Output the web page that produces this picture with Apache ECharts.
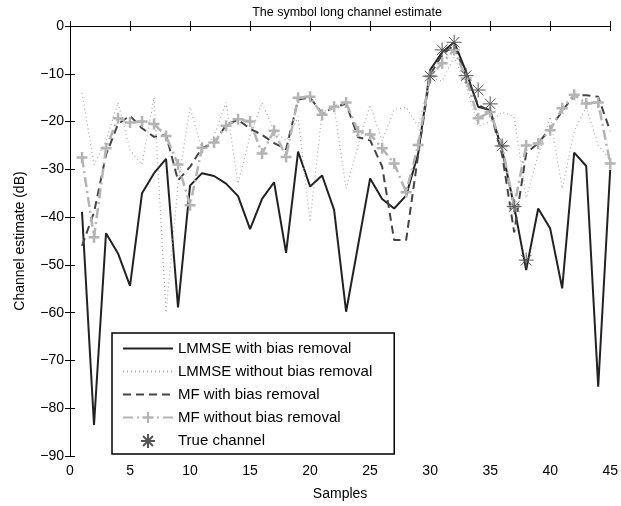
<!DOCTYPE html>
<html>
<head>
<meta charset="utf-8">
<script src="https://cdn.jsdelivr.net/npm/echarts@6/dist/echarts.min.js"></script>
<style>html,body{margin:0;padding:0;background:#fff;}#c{width:621px;height:506px;}</style>
</head>
<body>
<div id="c"></div>
<script>
var samples = [1,2,3,4,5,6,7,8,9,10,11,12,13,14,15,16,17,18,19,20,21,22,23,24,25,26,27,28,29,30,31,32,33,34,35,36,37,38,39,40,41,42,43,44,45];
var lmmseBias = [-38.9,-83.5,-43.4,-47.6,-54.4,-35.0,-30.8,-27.8,-58.9,-33.4,-30.8,-31.4,-33.0,-35.6,-42.5,-36.2,-32.7,-47.5,-26.3,-33.6,-31.3,-38.5,-59.8,-45.9,-31.9,-36.2,-38.2,-35.5,-26.7,-9.2,-5.5,-3.4,-9.6,-16.9,-17.6,-26.0,-37.8,-51.1,-38.2,-42.4,-54.9,-26.5,-29.3,-75.5,-30.1];
var lmmseNoBias = [-14,-29,-24,-16,-26,-29,-15,-60,-33,-17,-26,-23,-16,-33,-23,-16,-22,-24,-19,-41,-18,-17,-34,-25,-16.5,-24,-17.5,-17,-21,-11,-11.5,-6.5,-12.5,-21,-20,-18,-19,-36,-27,-19,-34,-22,-17,-25,-28];
var mfBias = [-46,-39,-27,-20.5,-18.8,-21.4,-23.2,-22.8,-32.3,-29.5,-25.5,-24.6,-20.7,-19.6,-21.5,-22.8,-24.5,-25.8,-15.4,-15.0,-18.3,-17.0,-16.3,-23.3,-23.9,-29.4,-44.8,-44.8,-27.0,-10.2,-6.0,-4.0,-10.5,-16.5,-17.8,-27.0,-43.2,-26.7,-24.5,-21.5,-17.8,-14.5,-14.5,-14.8,-22.0];
var mfNoBias = [-27.5,-44.2,-25.6,-19.3,-20.2,-20.0,-20.5,-23.0,-29.0,-37.5,-25.5,-24.4,-20.9,-19.5,-20.0,-26.7,-21.9,-27.4,-15.0,-14.8,-18.6,-16.9,-16.0,-22.1,-22.7,-25.6,-28.8,-34.8,-24.9,-10.5,-7.8,-5.0,-11.0,-19.3,-18.0,-25.1,-37.8,-25.0,-24.6,-21.8,-17.2,-14.4,-16.2,-16.0,-28.8];
var trueSamples = [30,31,32,33,34,35,36,37,38];
var trueValues = [-10.5,-5.0,-3.4,-10.4,-13.4,-16.3,-25.1,-37.8,-49.0];
var seriesNames = ['LMMSE with bias removal','LMMSE without bias removal','MF with bias removal','MF without bias removal','True channel'];
var xTicks = [0,5,10,15,20,25,30,35,40,45];
var yTicks = [0,-10,-20,-30,-40,-50,-60,-70,-80,-90];

function pairs(xs, ys){ return xs.map(function(x,i){ return [x, ys[i]]; }); }
var FONT = 'Liberation Sans';
var minus = function(v){ return String(v).replace('-', '\u2212'); };
var star = 'path://M0,-10L0,10M-10,0L10,0M-7.07,-7.07L7.07,7.07M-7.07,7.07L7.07,-7.07';
var plus = 'path://M0,-10L0,10M-10,0L10,0';

var chart = echarts.init(document.getElementById('c'), null, {renderer:'canvas'});
var axisCommon = {
  axisLine:{show:true, lineStyle:{color:'#000', width:1}},
  axisTick:{show:true, inside:true, length:5, lineStyle:{color:'#000'}},
  splitLine:{show:false}
};
var hiddenSym = {color:'rgba(0,0,0,0)', borderColor:'rgba(0,0,0,0)', borderWidth:0, opacity:0};
chart.setOption({
  animation:false,
  backgroundColor:'#fff',
  title:{text:'The symbol long channel estimate', left:342, top:1, textAlign:'center',
    textStyle:{fontFamily:FONT, fontSize:12.5, fontWeight:'normal', color:'#000'}},
  grid:{left:70, right:6, top:26, bottom:50},
  xAxis:[
    Object.assign({type:'value', min:0, max:45, interval:5, position:'bottom',
      name:'Samples', nameLocation:'middle', nameGap:31,
      nameTextStyle:{fontFamily:FONT, fontSize:14, color:'#000'},
      axisLabel:{fontFamily:FONT, fontSize:14, color:'#000', margin:8, formatter:minus}}, axisCommon),
    Object.assign({type:'value', min:0, max:45, interval:5, position:'top', axisLabel:{show:false}}, axisCommon)
  ],
  yAxis:[
    Object.assign({type:'value', min:-90, max:0, interval:10, position:'left',
      name:'Channel estimate (dB)', nameLocation:'middle', nameGap:43,
      nameTextStyle:{fontFamily:FONT, fontSize:14, color:'#000'},
      axisLabel:{fontFamily:FONT, fontSize:14, color:'#000', margin:6, formatter:minus}}, axisCommon),
    Object.assign({type:'value', min:-90, max:0, interval:10, position:'right', axisLabel:{show:false}}, axisCommon)
  ],
  legend:{
    orient:'vertical', left:112, top:333,
    data:[
      {name:seriesNames[0], itemStyle:hiddenSym},
      {name:seriesNames[1], itemStyle:hiddenSym},
      {name:seriesNames[2], itemStyle:hiddenSym},
      {name:seriesNames[3]},
      {name:seriesNames[4]}
    ],
    backgroundColor:'#fff', borderColor:'#000', borderWidth:1.5, borderRadius:0,
    padding:[8,22,5,10], itemWidth:50, itemHeight:14, itemGap:8,
    textStyle:{fontFamily:FONT, fontSize:15, color:'#000'}
  },
  series:[
    {name:seriesNames[0], type:'line', data:pairs(samples, lmmseBias), showSymbol:false, symbol:'none',
     lineStyle:{color:'#222', width:2}, itemStyle:{color:'#222'}, z:2},
    {name:seriesNames[1], type:'line', data:pairs(samples, lmmseNoBias), showSymbol:false, symbol:'none',
     lineStyle:{color:'#aaa', width:1.2, type:[1,3]}, itemStyle:{color:'#aaa'}, z:2},
    {name:seriesNames[2], type:'line', data:pairs(samples, mfBias), showSymbol:false, symbol:'none',
     lineStyle:{color:'#444', width:2, type:[8,5]}, itemStyle:{color:'#444'}, z:3},
    {name:seriesNames[3], type:'line', data:pairs(samples, mfNoBias), symbol:plus, symbolSize:11,
     lineStyle:{color:'#b4b4b4', width:2.5, type:[10,4,2,4]},
     itemStyle:{color:'#b4b4b4', borderColor:'#b4b4b4', borderWidth:2.5}, z:4},
    {name:seriesNames[4], type:'scatter', data:pairs(trueSamples, trueValues), symbol:star, symbolSize:15,
     itemStyle:{color:'#555', borderColor:'#555', borderWidth:1, opacity:1}, z:5}
  ]
});
</script>
</body>
</html>
